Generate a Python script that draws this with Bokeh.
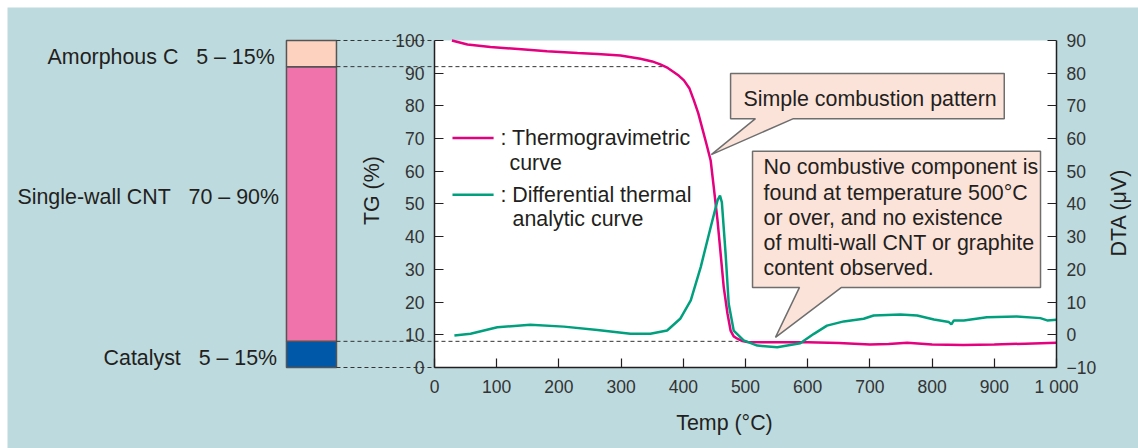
import math
from bokeh.plotting import figure
from bokeh.layouts import row, column
from bokeh.models import Range1d, LinearAxis, FixedTicker, ColumnDataSource, Spacer
from bokeh.core.properties import value
from bokeh.embed import file_html
from bokeh.resources import INLINE

# ---------------- data ----------------
tg_temp = [28, 53, 90, 140, 181, 230, 262, 299, 331, 350, 363, 375, 385, 393, 401, 410,
           417, 424, 430, 437, 444, 449, 455, 460, 465, 471, 476, 481, 487, 495, 503,
           550, 600, 650, 700, 730, 760, 800, 850, 900, 950, 1000]
tg_val = [100, 98.8, 98, 97.3, 96.7, 96.2, 95.9, 95.4, 94.4, 93.6, 92.7, 91.6, 90.3, 89.2,
          87.8, 85.3, 81.7, 77.8, 73.5, 68.5, 63.3, 55.1, 45, 34.8, 24.6, 16.5, 11.3, 9.5,
          8.8, 8.1, 7.8, 7.7, 7.7, 7.5, 7.0, 7.2, 7.6, 7.0, 6.9, 7.0, 7.3, 7.6]

dta_temp = [32, 58, 101, 154, 208, 262, 315, 347, 374, 395, 412, 428, 444, 455, 459, 462,
            468, 473, 481, 497, 519, 551, 588, 610, 631, 658, 690, 706, 749, 776, 803, 827,
            831, 835, 851, 888, 936, 974, 985, 1000]
dta_val = [-0.2, 0.3, 2.3, 3.1, 2.5, 1.5, 0.3, 0.3, 1.3, 4.9, 10.5, 20.7, 32.9, 41.1, 42.6,
           40.5, 24.8, 9.5, 1.3, -1.7, -3.3, -3.8, -2.6, 0.3, 2.8, 4.1, 4.9, 5.9, 6.2, 5.9,
           4.7, 3.9, 3.2, 4.4, 4.4, 5.4, 5.6, 5.1, 4.4, 4.6]

components = ["Catalyst", "Single-wall CNT", "Amorphous C"]
comp_ranges = ["5 \u2013 15%", "70 \u2013 90%", "5 \u2013 15%"]
comp_bottom = [0, 8, 92]
comp_top = [8, 92, 100]
comp_colors = ["#0058A8", "#F073AC", "#FDD3C0"]

guide_levels = [100, 92, 8, 0]
guide_end_temp = [0, 366, 489, 0]

x_ticks = [0, 100, 200, 300, 400, 500, 600, 700, 800, 900, 1000]
tg_ticks = [0, 10, 20, 30, 40, 50, 60, 70, 80, 90, 100]
dta_ticks = [-10, 0, 10, 20, 30, 40, 50, 60, 70, 80, 90]

x_title = "Temp (\u00b0C)"
tg_title = "TG (%)"
dta_title = "DTA (\u03bcV)"

# ---------------- styling / layout constants ----------------
BG = "#BDDADE"
TXT = "#231F20"
FONT = "Liberation Sans"
FS = "21.4px"
TG_COLOR = "#E4007F"
DTA_COLOR = "#00A07E"
X_START, X_END = -686.5, 1131.83
Y_START, Y_END = -24.77, 110.09
BAR_L, BAR_R = -238.0, -157.6
LABEL_X = [-253, -250, -257]
LABEL_Y = [3, 52, 95]

p = figure(width=1131, height=441, output_backend="svg", toolbar_location=None,
           x_range=Range1d(X_START, X_END), y_range=Range1d(Y_START, Y_END),
           x_axis_location=None, y_axis_location=None,
           min_border_left=0, min_border_right=0, min_border_top=0, min_border_bottom=0)
p.extra_y_ranges = {"dta": Range1d(Y_START - 10, Y_END - 10)}
p.background_fill_color = BG
p.border_fill_color = BG
p.outline_line_color = None
p.grid.visible = False

# white plotting area
p.quad(left=[0], right=[1000], bottom=[0], top=[100], fill_color="white", line_color=None)

# stacked composition bar
bar_src = ColumnDataSource(dict(bottom=comp_bottom, top=comp_top, color=comp_colors))
p.quad(left=BAR_L, right=BAR_R, bottom="bottom", top="top", fill_color="color",
       line_color="#555555", line_width=1.5, source=bar_src)

# dashed guide lines
p.segment(x0=[BAR_R] * len(guide_levels), x1=guide_end_temp, y0=guide_levels, y1=guide_levels,
          line_color="#333333", line_width=1, line_dash="4 3")

# component labels
NB = "\u00a0\u00a0\u00a0"
labels = [f"{n}{NB}{r}" for n, r in zip(components, comp_ranges)]
p.text(x=LABEL_X, y=LABEL_Y, text=labels, text_align="right",
       text_baseline="middle", text_font=value(FONT), text_font_size=FS,
       text_color=TXT)

# callouts
c1x = [476, 916, 916, 577, 445, 516, 476]
c1y = [89.9, 89.9, 76.1, 76.1, 65.1, 76.1, 76.1]
c2x = [511.3, 974.3, 974.3, 654.3, 548.2, 586.8, 511.3]
c2y = [66.1, 66.1, 24.5, 24.5, 9.2, 24.5, 24.5]
for cx, cy in ((c1x, c1y), (c2x, c2y)):
    p.patch(cx, cy, fill_color="#FCE3D9", line_color="#6E6E6E", line_width=1.5)

p.text(x=[496.8], y=[82.2], text=["Simple combustion pattern"], text_align="left",
       text_baseline="middle", text_font=value(FONT), text_font_size=FS, text_color=TXT)
note_lines = ["No combustive component is",
              "found at temperature 500\u00b0C",
              "or over, and no existence",
              "of multi-wall CNT or graphite",
              "content observed."]
p.text(x=[529] * 5, y=[61.25, 53.5, 45.8, 38.0, 30.3], text=note_lines, text_align="left",
       text_baseline="middle", text_font=value(FONT), text_font_size=FS, text_color=TXT)

# curves
p.line(tg_temp, tg_val, line_color=TG_COLOR, line_width=2.5)
p.line(dta_temp, dta_val, line_color=DTA_COLOR, line_width=2.5, y_range_name="dta")

# hand-made legend
p.segment(x0=[28.9, 28.9], x1=[95, 95], y0=[70.2, 52.8], y1=[70.2, 52.8],
          line_color=[TG_COLOR, DTA_COLOR], line_width=2.5)
p.text(x=[106, 120.6, 106, 125.4], y=[70.2, 62.4, 52.8, 45.5],
       text=[": Thermogravimetric", "curve", ": Differential thermal", "analytic curve"],
       text_align="left", text_baseline="middle", text_font=value(FONT),
       text_font_size=FS, text_color=TXT)

# axis titles (placed off-centre as in the original)
p.text(x=[466.2], y=[-17.1], text=[x_title], text_align="center", text_baseline="middle",
       text_font=value(FONT), text_font_size=FS, text_color=TXT)
p.text(x=[-99.7, 1099.7], y=[54.1, 47.4], text=[tg_title, dta_title], angle=math.pi / 2,
       text_align="center", text_baseline="middle",
       text_font=value(FONT), text_font_size=FS, text_color=TXT)

# axes
def style_axis(ax):
    ax.axis_line_color = "#231F20"
    ax.axis_line_width = 1.5
    ax.major_tick_line_color = "#231F20"
    ax.major_tick_line_width = 1.2
    ax.major_tick_in = 9
    ax.major_tick_out = 0
    ax.minor_tick_in = 0
    ax.minor_tick_out = 0
    ax.major_label_text_font = FONT
    ax.major_label_text_font_size = "17.5px"
    ax.major_label_text_color = "#333333"

xa = LinearAxis(fixed_location=0, bounds=(0, 1000), ticker=FixedTicker(ticks=x_ticks))
xa.major_label_overrides = {1000: "1 000"}
style_axis(xa)
xa.major_label_standoff = 9
p.add_layout(xa, "below")

tg_axis = LinearAxis(fixed_location=0, bounds=(0, 100), ticker=FixedTicker(ticks=tg_ticks))
style_axis(tg_axis)
tg_axis.major_label_standoff = 10
p.add_layout(tg_axis, "left")

dta_axis = LinearAxis(y_range_name="dta", fixed_location=1000, bounds=(-10, 90),
                      ticker=FixedTicker(ticks=dta_ticks))
style_axis(dta_axis)
dta_axis.major_label_overrides = {-10: "\u221210"}
dta_axis.major_label_standoff = 10
p.add_layout(dta_axis, "right")

layout = column(Spacer(height=7), row(Spacer(width=7), p))
open("out.html", "w").write(file_html(layout, INLINE))
